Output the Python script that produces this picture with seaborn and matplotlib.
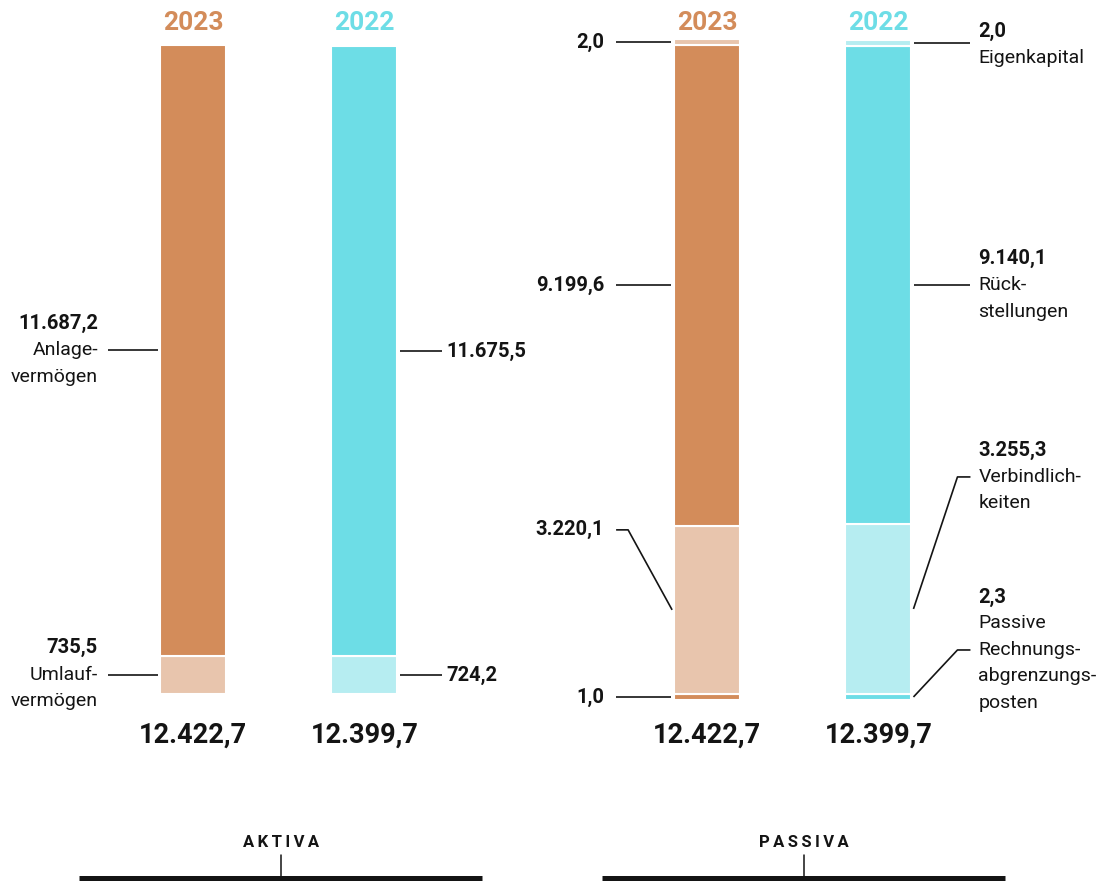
import matplotlib
matplotlib.use("Agg")
import matplotlib.pyplot as plt
import seaborn as sns

# ---------------------------------------------------------------- data (Mio. €)
years = [2023, 2022]

aktiva_items = ["Umlauf-\nvermögen", "Anlage-\nvermögen"]          # bottom -> top
aktiva_2023 = [735.5, 11687.2]
aktiva_2022 = [724.2, 11675.5]

passiva_items = ["Passive\nRechnungs-\nabgrenzungs-\nposten",
                 "Verbindlich-\nkeiten", "Rück-\nstellungen", "Eigenkapital"]  # bottom -> top
passiva_2023 = [1.0, 3220.1, 9199.6, 2.0]
passiva_2022 = [2.3, 3255.3, 9140.1, 2.0]

totals_aktiva = [12422.7, 12399.7]
totals_passiva = [12422.7, 12399.7]

group_titles = ["AKTIVA", "PASSIVA"]

# ---------------------------------------------------------------- styling
sns.set_theme(style="white")
FONT = ["Roboto", "DejaVu Sans"]
plt.rcParams["font.family"] = FONT
INK = "#141414"
DARK = {2023: "#D38C5A", 2022: "#6DDDE6"}
LIGHT = {2023: "#E8C5AD", 2022: "#B6EDF1"}
AKTIVA_SHADES = ["light", "dark"]
PASSIVA_SHADES = ["dark", "light", "dark", "light"]

FIG_W, FIG_H, DPI = 11.04, 8.81, 100
XLIM = (-1.126, 5.316)
YLIM = (-3580, 13284)
BAR_W = 0.385
MIN_VISIBLE = 115          # smallest drawn segment height, keeps tiny items visible
POS = {"Aktiva": [0, 1], "Passiva": [3, 4]}

fig = plt.figure(figsize=(FIG_W, FIG_H), dpi=DPI)
ax = fig.add_axes([0, 0, 1, 1])
ux = (XLIM[1] - XLIM[0]) / (FIG_W * DPI)   # data units per pixel, x
uy = (YLIM[1] - YLIM[0]) / (FIG_H * DPI)   # data units per pixel, y


def de(v):
    s = f"{v:,.1f}"
    return s.replace(",", "#").replace(".", ",").replace("#", ".")


def stack(values, base):
    segs, b = [], base
    for v in values:
        h = max(v, MIN_VISIBLE)
        segs.append((b, h))
        b += h
    return segs


def shade(name, year):
    return DARK[year] if name == "dark" else LIGHT[year]


def draw_bar(x, values, base, shades, year):
    segs = stack(values, base)
    for (b, h), sh in zip(segs, shades):
        sns.barplot(x=[x], y=[h], bottom=b, native_scale=True, width=BAR_W,
                    color=shade(sh, year), saturation=1, errorbar=None,
                    edgecolor="white", linewidth=1.5, ax=ax)
    return segs


def line(xs, ys, lw=1.2):
    ax.plot(xs, ys, color=INK, lw=lw, solid_capstyle="butt", zorder=5)


VALUE_SIZE = 14.5
NAME_SIZE = 14


def txt(x, y, s, ha="left", bold=False, size=NAME_SIZE, color=INK, **kw):
    ax.text(x, y, s, ha=ha, va="center", fontsize=size, color=color,
            fontweight="bold" if bold else "normal", family=FONT, **kw)


def val(x, y, v, ha="left"):
    txt(x, y, de(v), ha=ha, bold=True, size=VALUE_SIZE)


LINE = 26.5 * uy

# ---------------------------------------------------------------- bars
a_segs = {}
p_segs = {}
for i, yr in enumerate(years):
    a_vals = [aktiva_2023, aktiva_2022][i]
    p_vals = [passiva_2023, passiva_2022][i]
    a_segs[yr] = draw_bar(POS["Aktiva"][i], a_vals, 0, AKTIVA_SHADES, yr)
    p_base = -max(p_vals[0], MIN_VISIBLE)
    p_segs[yr] = draw_bar(POS["Passiva"][i], p_vals, p_base, PASSIVA_SHADES, yr)

# ---------------------------------------------------------------- year headers & totals
YEAR_Y = YLIM[1] - 23 * uy
TOTAL_Y = -41 * uy
for i, yr in enumerate(years):
    for grp, totals in (("Aktiva", totals_aktiva), ("Passiva", totals_passiva)):
        x = POS[grp][i]
        txt(x, YEAR_Y, str(yr), ha="center", bold=True, size=19, color=DARK[yr])
        txt(x, TOTAL_Y, de(totals[i]), ha="center", bold=True, size=19.5)

# ---------------------------------------------------------------- Aktiva labels
left = POS["Aktiva"][0] - BAR_W / 2
for (b, h), v, name in zip(a_segs[2023], aktiva_2023, aktiva_items):
    mid = b + h / 2
    line([left - 52 * ux, left - 2 * ux], [mid, mid])
    tx = left - 62 * ux
    val(tx, mid + 27 * uy, v, ha="right")
    for k, ln in enumerate(name.split("\n")):
        txt(tx, mid - k * LINE, ln, ha="right")

right = POS["Aktiva"][1] + BAR_W / 2
for (b, h), v in zip(a_segs[2022], aktiva_2022):
    mid = b + h / 2
    line([right + 3 * ux, right + 45 * ux], [mid, mid])
    val(right + 49 * ux, mid, v)

# ---------------------------------------------------------------- Passiva labels, 2023 (left)
left = POS["Passiva"][0] - BAR_W / 2
tx = left - 70 * ux
for idx, ((b, h), v) in enumerate(zip(p_segs[2023], passiva_2023)):
    mid = b + h / 2
    if passiva_items[idx].startswith("Verbindlich"):
        ey = mid + 80 * uy
        line([left - 58 * ux, left - 46 * ux, left - 2 * ux], [ey, ey, mid])
        val(tx, ey, v, ha="right")
    else:
        line([left - 58 * ux, left - 3 * ux], [mid, mid])
        val(tx, mid, v, ha="right")

# ---------------------------------------------------------------- Passiva labels, 2022 (right)
right = POS["Passiva"][1] + BAR_W / 2
tx = right + 67 * ux
for idx, ((b, h), v) in enumerate(zip(p_segs[2022], passiva_2022)):
    mid = b + h / 2
    name_lines = passiva_items[idx].split("\n")
    if idx == 3:       # Eigenkapital
        line([right + 3 * ux, right + 59 * ux], [mid, mid])
        val(tx, mid + 12 * uy, v)
        txt(tx, mid - 15 * uy, name_lines[0])
        continue
    if idx == 2:       # Rückstellungen
        line([right + 3 * ux, right + 59 * ux], [mid, mid])
        ey, first = mid, 0
    elif idx == 1:     # Verbindlichkeiten
        ey = mid + 132 * uy
        line([right + 2 * ux, right + 46 * ux, right + 59 * ux], [mid, ey, ey])
        first = 0
    else:              # Rechnungsabgrenzungsposten
        ey = mid + 47 * uy
        line([right + 2 * ux, right + 46 * ux, right + 59 * ux], [mid, ey, ey])
        first = 1
    top = ey + first * LINE
    val(tx, top + LINE, v)
    for k, ln in enumerate(name_lines):
        txt(tx, top - k * LINE, ln)

# ---------------------------------------------------------------- group brackets
BRACKET_HALF = 201.5 * ux
BASE_Y = YLIM[1] - 878 * uy
for title, grp, shift in zip(group_titles, ["Aktiva", "Passiva"], [2, 11]):
    cx = sum(POS[grp]) / 2 + shift * ux
    ax.plot([cx - BRACKET_HALF, cx + BRACKET_HALF], [BASE_Y, BASE_Y],
            color=INK, lw=3.6, solid_capstyle="butt")
    ax.plot([cx, cx], [BASE_Y, YLIM[1] - 855 * uy], color=INK, lw=1.1)
    txt(cx, YLIM[1] - 843 * uy, "\u2009".join(title), ha="center", bold=True, size=12)

ax.set_xlim(*XLIM)
ax.set_ylim(*YLIM)
ax.set_axis_off()
fig.savefig("out.png", dpi=DPI, facecolor="white")
